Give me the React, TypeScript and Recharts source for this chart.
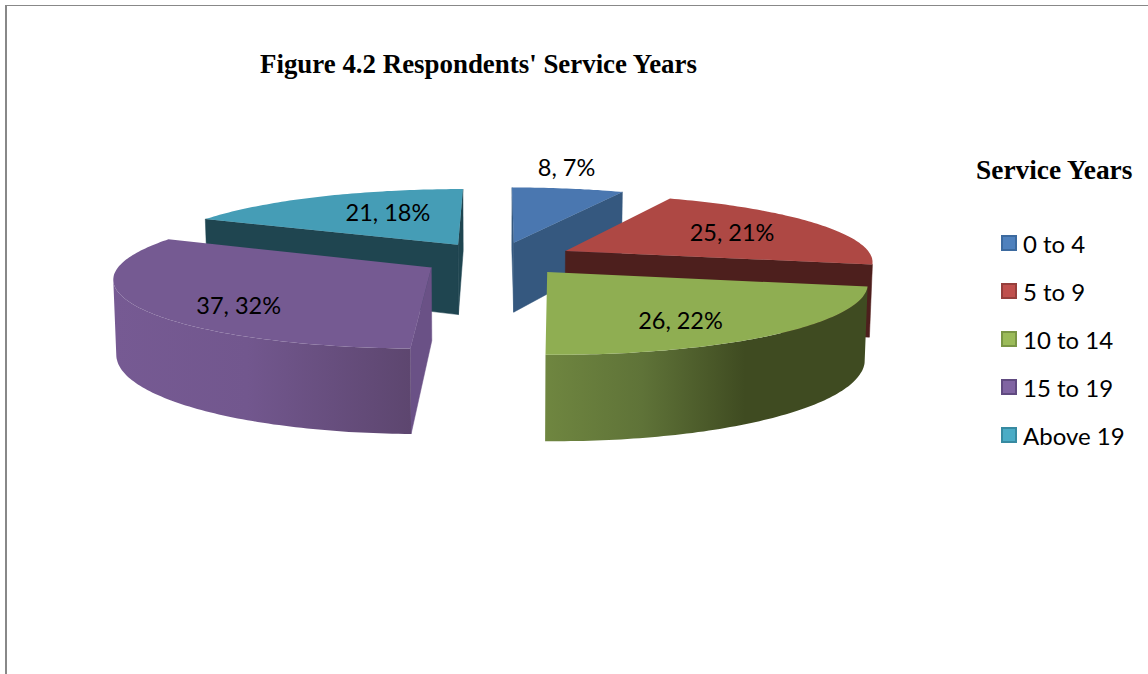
import { Legend, Pie, PieChart } from "recharts";

const categories = ["0 to 4", "5 to 9", "10 to 14", "15 to 19", "Above 19"];
const counts = [8, 25, 26, 37, 21];

const topColors = ["#4a77b0", "#ae4844", "#8fae52", "#755a92", "#459db6"];
const cutColors = ["#35587f", "#4d1f1d", "#46542a", "#6a5186", "#1f4550"];
const rimColors = ["#35587f", "#8d2f2c", "url(#rimGreen)", "url(#rimPurple)", "#2f6f82"];
const legendColors = ["#4f81bd", "#c0504d", "#9bbb59", "#8064a2", "#4bacc6"];
const legendEdges = ["#3c6a9f", "#963f3c", "#7a9645", "#604a80", "#378aa1"];

// where each value label sits inside its wedge: radius fraction, turn from the mid angle
const labelRadius = [1.45, 0.66, 0.72, 0.75, 0.615];
const labelTurn = [-3.5, -1, 7.5, -10.7, 7];

const data = categories.map((name, i) => ({ name, value: counts[i], fill: topColors[i] }));

// wedges further from the viewer are painted first
const backSlices = ["0 to 4", "Above 19"];
const frontSlices = ["5 to 9", "10 to 14", "15 to 19"];

const WIDTH = 1148;
const HEIGHT = 674;
const CX = 498;
const CY = 258.5;
const RADIUS = 307.5;

const EXPLODE = 0.25; // distance each wedge is pulled out, in radii
const PERSPECTIVE = 0.14;
const TILT = 0.218; // squash of the disc
const DEPTH = 0.234; // wedge thickness, in radii
const BOTTOM_SHRINK = 0.992; // verticals lean in a little

type Pt = [number, number];

const rad = (deg: number) => (deg * Math.PI) / 180;
const dir = (deg: number): Pt => [Math.sin(rad(deg)), -Math.cos(rad(deg))];

// u to the right, v towards the viewer, both in radii; z is 0 on top and 1 underneath
const project = (cx: number, cy: number, r: number, u: number, v: number, z = 0): Pt => {
  const s = 1 / (1 - PERSPECTIVE * v);
  const shrink = z ? BOTTOM_SHRINK : 1;
  return [cx + u * r * s * shrink, cy + v * r * TILT * s + z * r * DEPTH * s];
};

const toPath = (pts: Pt[]) =>
  pts.map((p, i) => `${i ? "L" : "M"}${p[0].toFixed(1)},${p[1].toFixed(1)}`).join(" ") + " Z";

const Wedge = (props: any, layer: string[]) => {
  const { cx, cy, outerRadius: r, startAngle, endAngle, name } = props;
  if (!layer.includes(name)) return <g />;
  const i = categories.indexOf(name);
  const a0 = 90 - startAngle;
  const a1 = 90 - endAngle;
  const mid = dir((a0 + a1) / 2);
  const o: Pt = [mid[0] * EXPLODE, mid[1] * EXPLODE];
  const viewer: Pt = [0, 1 / PERSPECTIVE];

  const arc: number[] = [];
  for (let a = a0; a < a1; a += 1) arc.push(a);
  arc.push(a1);
  const edge = (a: number): Pt => {
    const d = dir(a);
    return [o[0] + d[0], o[1] + d[1]];
  };
  const at = (p: Pt, z = 0) => project(cx, cy, r, p[0], p[1], z);
  const faces = (n: Pt, p: Pt) => n[0] * (viewer[0] - p[0]) + n[1] * (viewer[1] - p[1]) > 0;

  const cut = (a: number, sign: number) => {
    const n: Pt = [sign * Math.cos(rad(a)), sign * Math.sin(rad(a))];
    if (!faces(n, o)) return null;
    const e = edge(a);
    return (
      <path
        d={toPath([at(o), at(e), at(e, 1), at(o, 1)])}
        fill={cutColors[i]}
        stroke={cutColors[i]}
        strokeWidth={0.5}
      />
    );
  };

  const rimAngles = arc.filter((a) => faces(dir(a), edge(a)));
  const rim = rimAngles.length > 1 && (
    <path
      d={toPath([
        ...rimAngles.map((a) => at(edge(a))),
        ...[...rimAngles].reverse().map((a) => at(edge(a), 1)),
      ])}
      fill={rimColors[i]}
    />
  );

  return (
    <g>
      {cut(a0, -1)}
      {cut(a1, 1)}
      {rim}
      <path d={toPath([at(o), ...arc.map((a) => at(edge(a)))])} fill={topColors[i]} />
    </g>
  );
};

const ValueLabel = (props: any) => {
  const { cx, cy, outerRadius: r, midAngle, name, value, percent } = props;
  const i = categories.indexOf(name);
  const mid = dir(90 - midAngle);
  const d = dir(90 - midAngle + labelTurn[i]);
  const [x, y] = project(
    cx,
    cy,
    r,
    mid[0] * EXPLODE + d[0] * labelRadius[i],
    mid[1] * EXPLODE + d[1] * labelRadius[i]
  );
  return (
    <text
      x={x}
      y={y}
      textAnchor="middle"
      dominantBaseline="central"
      fontFamily="Lato, sans-serif"
      fontSize={23.5}
      fill="#000"
    >
      {`${value}, ${Math.round(percent * 100)}%`}
    </text>
  );
};

const LegendBox = () => (
  <div style={{ position: "relative", width: 172, height: 300 }}>
    <div
      style={{
        position: "absolute",
        left: 0,
        top: 0,
        fontFamily: "'Liberation Serif', serif",
        fontWeight: "bold",
        fontSize: 27.4,
        lineHeight: "30px",
        whiteSpace: "nowrap",
      }}
    >
      Service Years
    </div>
    {categories.map((name, i) => (
      <div
        key={name}
        style={{
          position: "absolute",
          left: 25,
          top: 76 + i * 48,
          height: 24,
          display: "flex",
          alignItems: "center",
          whiteSpace: "nowrap",
          fontFamily: "Lato, sans-serif",
          fontSize: 24,
          color: "#000",
        }}
      >
        <span
          style={{
            width: 12,
            height: 12,
            marginRight: 6,
            background: legendColors[i],
            border: `2px solid ${legendEdges[i]}`,
            display: "inline-block",
          }}
        />
        {name}
      </div>
    ))}
  </div>
);

const App = () => {
  return (
    <div style={{ position: "absolute", left: 0, top: 0, width: WIDTH, height: HEIGHT, background: "#fff" }}>
      <div style={{ position: "absolute", left: 5, top: 5, right: 0, height: 1, background: "#888" }} />
      <div style={{ position: "absolute", left: 5, top: 5, bottom: 0, width: 2, background: "#888" }} />
      <div style={{ position: "absolute", left: 0, top: 0 }}>
        <PieChart width={WIDTH} height={HEIGHT} margin={{ top: 0, right: 0, bottom: 0, left: 0 }}>
          <defs>
            <linearGradient id="rimGreen" x1="0" y1="0" x2="1" y2="0">
              <stop offset="0%" stopColor="#6f8640" />
              <stop offset="30%" stopColor="#5f7338" />
              <stop offset="62%" stopColor="#3f4b21" />
              <stop offset="100%" stopColor="#3f4b21" />
            </linearGradient>
            <linearGradient id="rimPurple" x1="0" y1="0" x2="1" y2="0">
              <stop offset="0%" stopColor="#765a93" />
              <stop offset="45%" stopColor="#72578e" />
              <stop offset="100%" stopColor="#5d466f" />
            </linearGradient>
          </defs>
          <text
            x={260}
            y={73}
            fontFamily="'Liberation Serif', serif"
            fontWeight="bold"
            fontSize={26.9}
            fill="#000"
          >
            Figure 4.2 Respondents' Service Years
          </text>
          <Pie
            data={data}
            dataKey="value"
            nameKey="name"
            cx={CX}
            cy={CY}
            outerRadius={RADIUS}
            startAngle={90}
            endAngle={-270}
            isAnimationActive={false}
            labelLine={false}
            label={(p: any) => (backSlices.includes(p.name) ? <ValueLabel {...p} /> : <g />)}
            shape={(p: any) => Wedge(p, backSlices)}
          />
          <Pie
            data={data}
            dataKey="value"
            nameKey="name"
            cx={CX}
            cy={CY}
            outerRadius={RADIUS}
            startAngle={90}
            endAngle={-270}
            isAnimationActive={false}
            labelLine={false}
            label={(p: any) => (frontSlices.includes(p.name) ? <ValueLabel {...p} /> : <g />)}
            shape={(p: any) => Wedge(p, frontSlices)}
          />
          <Legend
            content={LegendBox}
            wrapperStyle={{ left: 976, top: 155, width: 172, height: 300, bottom: "auto" }}
          />
        </PieChart>
      </div>
    </div>
  );
};

export default App;
